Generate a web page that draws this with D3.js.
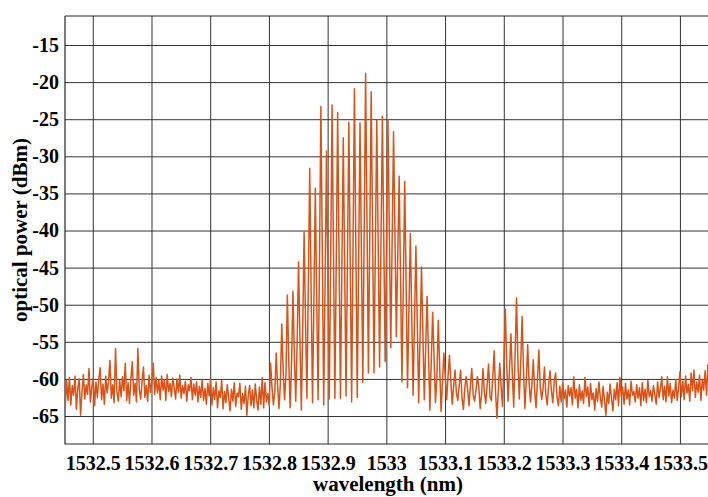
<!DOCTYPE html>
<html><head><meta charset="utf-8">
<script src="https://cdn.jsdelivr.net/npm/d3@7"></script>
<style>
body{margin:0;background:#fff;}
svg{display:block;}
text{font-family:"Liberation Serif","Times New Roman",serif;font-weight:bold;fill:#000;}
</style>
</head><body><svg id="c" width="708" height="497"></svg>
<script>
// Uniformly sampled OSA trace: wavelength of first sample and sample spacing (nm)
const startNm = 1532.4507;
const stepNm = 0.0023795;

// power (dBm), left noise floor
const leftNoisePower = [
-61.5,-63.8,-60.2,-62.9,-59.8,-63.5,-60.9,-62.2,
-59.6,-64.1,-61.3,-60.0,-64.9,-61.8,-59.4,-62.7,
-60.8,-62.1,-58.6,-63.1,-61.2,-59.9,-63.6,-60.4,
-62.5,-60.1,-58.5,-62.8,-60.7,-63.4,-59.6,-61.9,
-60.3,-57.5,-62.6,-60.8,-63.2,-55.9,-61.7,-63.0,
-60.2,-62.4,-59.7,-61.6,-57.9,-62.9,-60.5,-63.3,
-60.0,-57.7,-62.2,-60.6,-63.1,-55.9,-61.4,-62.7,
-60.3,-58.4,-62.5,-60.9,-63.0,-59.5,-61.8,-60.4,
-57.9,-62.1,-59.8,-61.9,-60.2,-62.8,-59.6,-61.5,
-60.1,-62.9,-59.4,-61.7,-60.6,-62.4,-59.9,-61.2,
-62.7,-60.0,-61.8,-59.5,-62.6,-60.9,-62.0,-60.3,
-63.0,-60.8,-61.6,-59.8,-62.8,-60.7,-62.2,-60.4,
-63.1,-61.0,-62.5,-60.2,-62.9,-61.3,-63.4,-60.6,
-62.3,-60.0,-63.5,-61.2,-62.8,-60.4,-63.9,-61.6,
-62.5,-60.2,-64.0,-61.7,-63.2,-60.8,-62.6,-64.3,
-61.4,-63.0,-60.5,-63.7,-61.9,-62.4,-60.6,-64.1,
-62.0,-63.3,-61.0,-64.9,-62.2,-60.9,-63.6,-61.5,
-63.9,-60.7,-62.8,-64.2,-61.1,-63.4,-59.8,-63.9,
-60.5,-63.1,-62.0,-63.6
];

// comb lines: peak, falling edge, valley, rising edge
const combPower = [
-57.9,-61.2,-63.5,-61.8,
-56.5,-60.9,-64.0,-60.6,
-52.6,-59.0,-62.8,-59.4,
-48.7,-57.5,-63.9,-57.8,
-48.2,-56.9,-63.0,-55.1,
-44.2,-54.8,-64.2,-53.0,
-40.2,-52.4,-62.6,-47.5,
-31.6,-48.0,-63.2,-49.5,
-34.3,-49.1,-62.8,-43.8,
-23.3,-42.6,-63.5,-46.9,
-29.3,-46.5,-62.7,-43.5,
-23.1,-42.8,-62.6,-43.9,
-24.1,-43.4,-62.6,-45.2,
-27.5,-45.0,-62.3,-44.2,
-25.4,-44.1,-63.1,-42.0,
-20.9,-41.7,-62.5,-44.3,
-25.5,-43.0,-60.4,-39.6,
-18.8,-39.0,-59.2,-40.1,
-21.3,-40.2,-59.2,-42.0,
-25.1,-41.8,-58.4,-41.5,
-24.6,-41.1,-57.7,-41.4,
-25.1,-40.5,-55.8,-41.3,
-26.7,-40.5,-54.3,-43.5,
-32.7,-46.5,-60.4,-46.9,
-33.4,-47.3,-61.2,-50.8,
-40.4,-51.3,-62.2,-52.1,
-42.1,-52.7,-63.2,-54.0,
-44.9,-53.9,-62.8,-55.9,
-48.9,-56.5,-64.2,-57.6,
-51.0,-57.1,-63.2,-59.8,
-52.1,-58.3,-64.4,-60.5,
-56.5,-59.7,-62.8,-59.6,
-56.8,-60.3,-63.4,-61.0,
-58.8,-61.9,-62.9,-60.8,
-58.8,-62.6,-64.1,-61.2,
-59.7,-61.4,-63.6,-60.9,
-58.6,-62.2,-63.0,-61.5,
-59.7,-61.0,-64.0,-62.1,
-58.6,-61.8,-63.3,-60.7,
-58.0,-62.4,-62.9,-59.9,
-56.2,-61.7,-65.3,-61.5,
-57.9,-61.1,-63.7,-57.4,
-50.6,-58.2,-63.0,-58.6,
-53.9,-59.3,-63.8,-56.7,
-49.1,-57.6,-62.7,-57.9,
-51.6,-58.8,-64.0,-60.1,
-55.4,-60.5,-63.1,-60.9,
-57.4,-61.6,-63.9,-60.2,
-56.1,-61.0,-62.8,-61.3,
-58.4,-62.2,-63.5,-60.8,
-58.9,-61.6,-63.2,-60.4,
-59.2
];

// right noise floor
const rightNoisePower = [
-62.4,-63.6,-61.0,-63.1,-60.6,-62.7,-61.5,-63.8,
-60.9,-62.3,-61.2,-63.5,-59.7,-62.6,-61.4,-63.9,
-60.8,-62.9,-61.6,-63.3,-59.8,-62.4,-61.1,-63.7,
-60.6,-62.8,-61.9,-64.2,-61.3,-63.0,-60.4,-62.5,
-63.8,-61.0,-62.9,-64.9,-61.8,-63.3,-60.7,-62.6,
-64.3,-61.4,-62.8,-60.5,-63.6,-59.8,-62.4,-61.1,
-63.4,-60.6,-62.7,-61.5,-63.5,-60.3,-62.2,-61.7,
-63.1,-60.8,-62.6,-61.2,-63.6,-60.5,-62.9,-61.4,
-63.2,-60.2,-62.4,-61.6,-63.0,-60.9,-62.1,-63.4,
-60.4,-62.5,-61.3,-59.7,-62.8,-61.0,-63.1,-59.7,
-62.3,-60.6,-63.2,-61.5,-62.6,-60.1,-62.9,-61.3,
-59.0,-62.4,-60.3,-62.8,-59.6,-61.9,-60.7,-63.0,
-59.2,-61.6,-58.8,-62.5,-60.4,-61.8,-59.5,-62.9,
-60.1,-61.5,-58.9,-62.2,-58.1,-60.6
];

const xTicks = [1532.5,1532.6,1532.7,1532.8,1532.9,1533.0,1533.1,1533.2,1533.3,1533.4,1533.5];
const xTickLabels = ["1532.5","1532.6","1532.7","1532.8","1532.9","1533","1533.1","1533.2","1533.3","1533.4","1533.5"];
const yTicks = [-65,-60,-55,-50,-45,-40,-35,-30,-25,-20,-15];
const yTickLabels = ["-65","-60","-55","-50","-45","-40","-35","-30","-25","-20","-15"];
const xTitle = "wavelength (nm)";
const yTitle = "optical power (dBm)";

const power = leftNoisePower.concat(combPower, rightNoisePower);
const trace = power.map((p, i) => ({wl: startNm + i * stepNm, p}));

const m = {left: 65, top: 16, right: 709, bottom: 444};
const svg = d3.select("#c");

const x = d3.scaleLinear().domain([1532.4527, 1533.5495]).range([m.left, m.right]);
const y = d3.scaleLinear().domain([-68.77, -11.09]).range([m.bottom, m.top]);
const pw = m.right - m.left, ph = m.bottom - m.top;
const FONT = "'Liberation Serif','Times New Roman',serif";

// grid + ticks
const gx = svg.append("g").attr("transform", `translate(0,${m.bottom})`)
  .call(d3.axisBottom(x).tickValues(xTicks).tickSize(-ph).tickPadding(12)
    .tickFormat((d, i) => xTickLabels[i]));
const gy = svg.append("g").attr("transform", `translate(${m.left},0)`)
  .call(d3.axisLeft(y).tickValues(yTicks).tickSize(-pw).tickPadding(6)
    .tickFormat((d, i) => yTickLabels[i]));
[gx, gy].forEach(g => {
  g.attr("font-family", null).attr("font-size", null);
  g.select(".domain").remove();
  g.selectAll(".tick line").attr("stroke", "#333").attr("stroke-width", 1);
  g.selectAll(".tick text")
    .style("font-family", FONT).style("font-size", "20px")
    .style("font-weight", "bold").style("fill", "#000");
});

// frame
svg.append("path")
  .attr("d", `M${m.left},${m.top}H${m.right}M${m.left},${m.top}V${m.bottom}H${m.right}`)
  .attr("fill", "none").attr("stroke", "#262626").attr("stroke-width", 1.2);

svg.append("clipPath").attr("id", "clip").append("rect")
  .attr("x", m.left).attr("y", m.top).attr("width", pw).attr("height", ph);

const line = d3.line().x(d => x(d.wl)).y(d => y(d.p));
svg.append("path").datum(trace)
  .attr("clip-path", "url(#clip)")
  .attr("d", line).attr("fill", "none")
  .attr("stroke", "#D95319").attr("stroke-width", 1.5).attr("stroke-linejoin", "round");

svg.append("text").attr("x", 388).attr("y", 491).attr("text-anchor", "middle")
  .style("font-family", FONT).style("font-size", "21px").style("font-weight", "bold")
  .text(xTitle);
svg.append("text").attr("transform", `translate(27,230) rotate(-90)`)
  .attr("text-anchor", "middle")
  .style("font-family", FONT).style("font-size", "21px").style("font-weight", "bold")
  .text(yTitle);
</script>
</body></html>
